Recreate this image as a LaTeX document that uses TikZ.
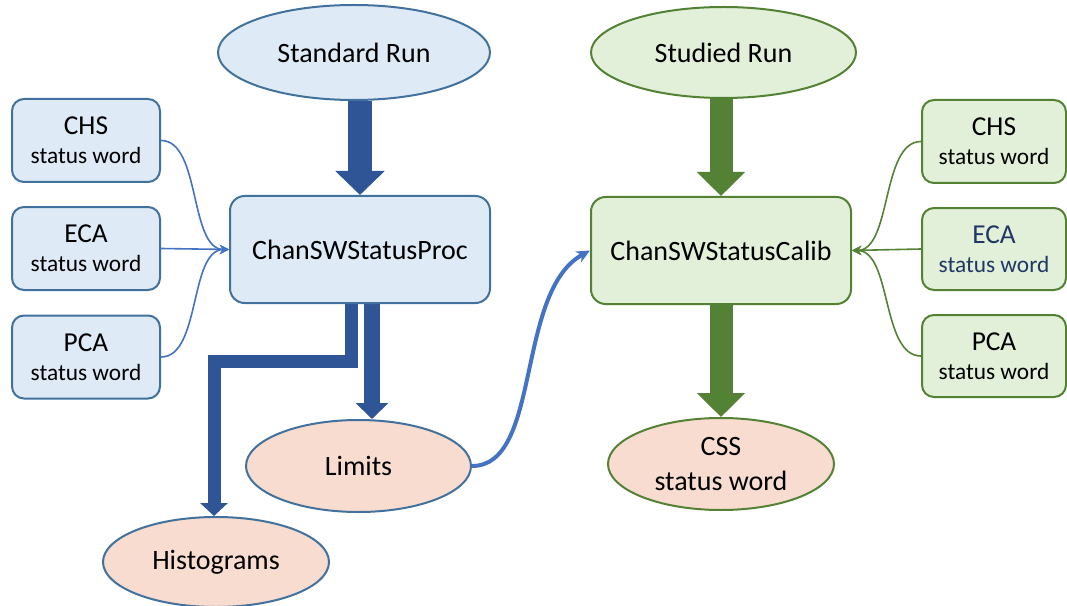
\documentclass[tikz,border=0pt]{standalone}
\usepackage{fontspec}
\setmainfont{Carlito}
\usetikzlibrary{shapes.geometric,arrows.meta,calc}
\pgfdeclarelayer{background}
\pgfsetlayers{background,main}
\newlength\pxu
\setlength\pxu{0.75pt}

\definecolor{bluefill}{HTML}{DEEBF7}
\definecolor{blueedge}{HTML}{41719C}
\definecolor{greenfill}{HTML}{E2F0D9}
\definecolor{greenedge}{HTML}{548235}
\definecolor{peach}{HTML}{F8DCD0}
\definecolor{darkarrow}{HTML}{2F5597}
\definecolor{thinblue}{HTML}{4472C4}
\definecolor{navytext}{HTML}{1F3864}

\tikzset{
  bigfont/.style={font=\fontsize{21}{26}\selectfont},
  oval/.style={ellipse, draw, line width=1.5pt, inner sep=0pt, bigfont},
  procbox/.style={rectangle, rounded corners=11pt, draw, line width=1.5pt,
    minimum width=195pt, minimum height=80.25pt, inner sep=0pt, bigfont},
  wordbox/.style={rectangle, rounded corners=9pt, draw, line width=1.5pt,
    inner sep=0pt, align=center, font=\fontsize{20.5}{22.5}\selectfont},
  bluebox/.style={fill=bluefill, draw=blueedge},
  greenbox/.style={fill=greenfill, draw=greenedge},
  thickblue/.style={draw=darkarrow, line width=18pt,
    -{Triangle[width=36pt,length=18pt]}},
  thickgreen/.style={draw=greenedge, line width=17.25pt,
    -{Triangle[width=35.25pt,length=18pt]}},
  midblue/.style={draw=darkarrow, line width=12pt,
    -{Triangle[width=24pt,length=12pt]}},
  slimblue/.style={draw=darkarrow, line width=9.75pt, miter limit=4,
    -{Triangle[width=20.25pt,length=9.75pt]}},
  feedblue/.style={draw=thinblue, line width=1.2pt,
    -{Stealth[length=7pt,width=7pt,inset=2.5pt]}},
  feedgreen/.style={draw=greenedge, line width=1.2pt,
    -{Stealth[length=7pt,width=7pt,inset=2.5pt]}},
  linkblue/.style={draw=thinblue, line width=3pt,
    -{Stealth[length=10pt,width=9pt,inset=3pt]}},
}

\newcommand{\sw}{\\[-1pt]{\fontsize{17.5}{22.5}\selectfont status word}}

\begin{document}
\begin{tikzpicture}[x=\pxu, y=-\pxu]
\useasboundingbox (0,0) rectangle (1067,606);

% run sources
\node[oval, fill=bluefill, draw=blueedge, minimum width=204pt, minimum height=71.25pt]
  (stdrun) at (354,52.5) {Standard Run};
\node[oval, fill=greenfill, draw=greenedge, minimum width=198.75pt, minimum height=68.25pt]
  (studrun) at (723.5,52.5) {Studied Run};

% processing algorithms
\node[procbox, bluebox] (proc) at (360,249.5) {ChanSWStatusProc};
\node[procbox, greenbox] (calib) at (721,250.5) {ChanSWStatusCalib};

% status word inputs, left
\node[wordbox, bluebox, minimum width=111pt, minimum height=62.25pt]
  (lchs) at (86,140.5) {CHS\sw};
\node[wordbox, bluebox, minimum width=111pt, minimum height=62.25pt]
  (leca) at (86,248.5) {ECA\sw};
\node[wordbox, bluebox, minimum width=111pt, minimum height=62.25pt]
  (lpca) at (86,357) {PCA\sw};

% status word inputs, right
\node[wordbox, greenbox, minimum width=108pt, minimum height=62.25pt]
  (rchs) at (994,141.5) {CHS\sw};
\node[wordbox, greenbox, minimum width=108pt, minimum height=61.5pt, text=navytext]
  (reca) at (994,249) {ECA\sw};
\node[wordbox, greenbox, minimum width=108pt, minimum height=61.5pt]
  (rpca) at (994,356) {PCA\sw};

% outputs
\node[oval, fill=peach, draw=blueedge, minimum width=168.75pt, minimum height=69pt]
  (limits) at (358.5,466) {Limits};
\node[oval, fill=peach, draw=blueedge, minimum width=169.5pt, minimum height=67.5pt]
  (histo) at (216,562) {Histograms};
\node[oval, fill=peach, draw=greenedge, minimum width=169.5pt, minimum height=69pt, align=center]
  (css) at (721,464) {CSS\\status word};

\coordinate (hk) at (214,361.5);

\begin{pgfonlayer}{background}
  \draw[thickblue] (stdrun.south -| proc.north) -- (proc.north);
  \draw[thickgreen] (studrun.south -| calib.north) -- (calib.north);
  \draw[thickgreen] (calib.south) -- (css.north);
  \draw[midblue] ([xshift=9pt]proc.south) -- ([xshift=9pt]proc.south |- limits.north);
  \draw[slimblue] ([xshift=-6.75pt]proc.south) |- (hk) -- (hk |- histo.north);
\end{pgfonlayer}

% status words feeding the algorithms
\draw[feedblue] (lchs.east) .. controls +(40,0) and +(-40,0) .. (proc.west);
\draw[feedblue] (leca.east) -- (proc.west);
\draw[feedblue] (lpca.east) .. controls +(40,0) and +(-40,0) .. (proc.west);

\draw[feedgreen] (rchs.west) .. controls +(-40,0) and +(40,0) .. (calib.east);
\draw[feedgreen] (reca.west) -- (calib.east);
\draw[feedgreen] (rpca.west) .. controls +(-40,0) and +(40,0) .. (calib.east);

% limits used by the calibration
\draw[linkblue] (limits.east) .. controls +(70,0) and +(-75,41) .. (calib.west);
\end{tikzpicture}
\end{document}
